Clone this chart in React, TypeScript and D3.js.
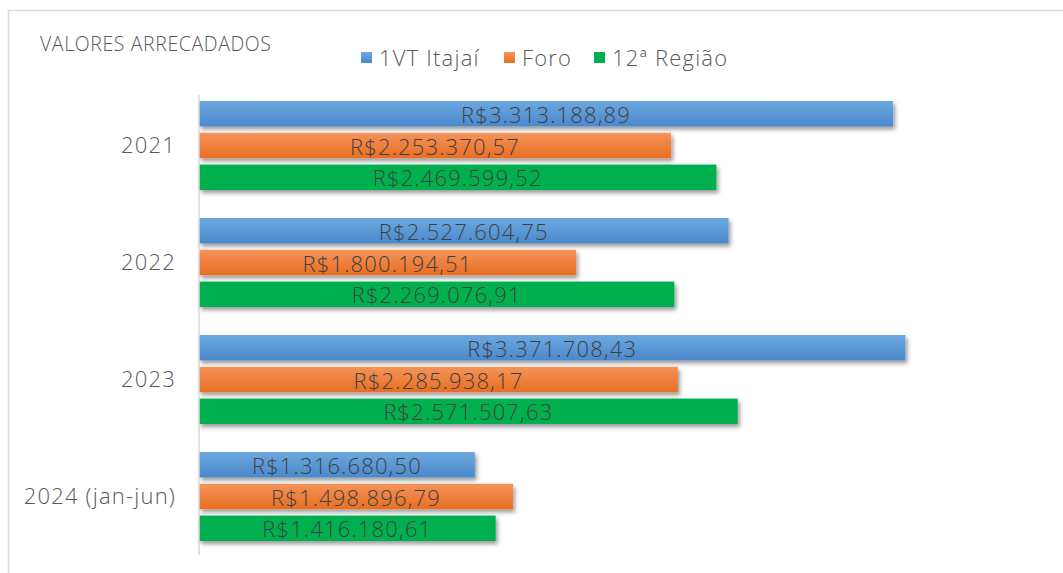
import React from 'react'
import * as d3 from 'd3'

const categories = ['2021', '2022', '2023', '2024 (jan-jun)']
const seriesNames = ['1VT Itajaí', 'Foro', '12ª Região']
const vtItajai = [3313188.89, 2527604.75, 3371708.43, 1316680.5]
const foro = [2253370.57, 1800194.51, 2285938.17, 1498896.79]
const regiao12 = [2469599.52, 2269076.91, 2571507.63, 1416180.61]

const W = 1063
const H = 573
const margin = { top: 87, right: 26, bottom: 18, left: 199 }
const font = "'Open Sans', 'Noto Sans', sans-serif"

const brl = (v: number) => {
  const [i, d] = v.toFixed(2).split('.')
  return 'R$' + i.replace(/\B(?=(\d{3})+(?!\d))/g, '.') + ',' + d
}

export default function App() {
  const series = [vtItajai, foro, regiao12]
  const fills = ['url(#gBlue)', 'url(#gOrange)', '#00b050']
  const legendSwatch = ['url(#gBlue)', 'url(#gOrange)', '#00b050']

  const x = d3.scaleLinear().domain([0, 4000000]).range([margin.left, W - margin.right])
  const y = d3.scaleBand<string>().domain(categories).range([margin.top, H - margin.bottom]).paddingInner(0).paddingOuter(0)
  const inner = d3.scaleBand<number>().domain([0, 1, 2]).range([14, y.bandwidth() - 14]).paddingInner(0.2)

  const legendX = [361, 504, 594]

  return (
    <svg width={W} height={H} style={{ position: 'fixed', left: 0, top: 0, background: '#fff' }} fontFamily={font} fontWeight={300}>
      <defs>
        <linearGradient id="gBlue" x1="0" y1="0" x2="0" y2="1">
          <stop offset="0" stopColor="#6da8de" />
          <stop offset="1" stopColor="#4a88cc" />
        </linearGradient>
        <linearGradient id="gOrange" x1="0" y1="0" x2="0" y2="1">
          <stop offset="0" stopColor="#f4935a" />
          <stop offset="1" stopColor="#e86e22" />
        </linearGradient>
        <filter id="shadow" x="-5%" y="-30%" width="110%" height="180%">
          <feDropShadow dx="2" dy="3" stdDeviation="2" floodColor="#000" floodOpacity="0.4" />
        </filter>
      </defs>
      <line x1={8.5} x2={8.5} y1={10} y2={H} stroke="#d9d9d9" strokeWidth={1.5} />
      <line x1={8} x2={W} y1={10.5} y2={10.5} stroke="#d9d9d9" strokeWidth={1.5} />
      <text x={40} y={51} fontSize={19.5} letterSpacing={0.6} fill="#595959">VALORES ARRECADADOS</text>
      {seriesNames.map((s, i) => (
        <g key={s}>
          <rect x={legendX[i]} y={52} width={11} height={11} fill={legendSwatch[i]} />
          <text x={legendX[i] + 18} y={66} fontSize={22} letterSpacing={1.2} fill="#595959">{s}</text>
        </g>
      ))}
      {categories.map((c, ci) => (
        <g key={c}>
          <text x={176} y={(y(c) as number) + y.bandwidth() / 2 + 7} textAnchor="end" fontSize={22} letterSpacing={1.2} fill="#595959">{c}</text>
          {series.map((vals, si) => {
            const by = (y(c) as number) + (inner(si) as number)
            const bw = x(vals[ci]) - x(0)
            return (
              <g key={si}>
                <rect x={x(0)} y={by} width={bw} height={inner.bandwidth()} fill={fills[si]} filter="url(#shadow)" />
                <text x={x(0) + bw / 2} y={by + inner.bandwidth() / 2 + 9} textAnchor="middle" fontSize={22} letterSpacing={1.15} fill="#404040">{brl(vals[ci])}</text>
              </g>
            )
          })}
        </g>
      ))}
      <line x1={x(0)} x2={x(0)} y1={margin.top + 8} y2={H - margin.bottom} stroke="#d9d9d9" strokeWidth={1.5} />
    </svg>
  )
}
